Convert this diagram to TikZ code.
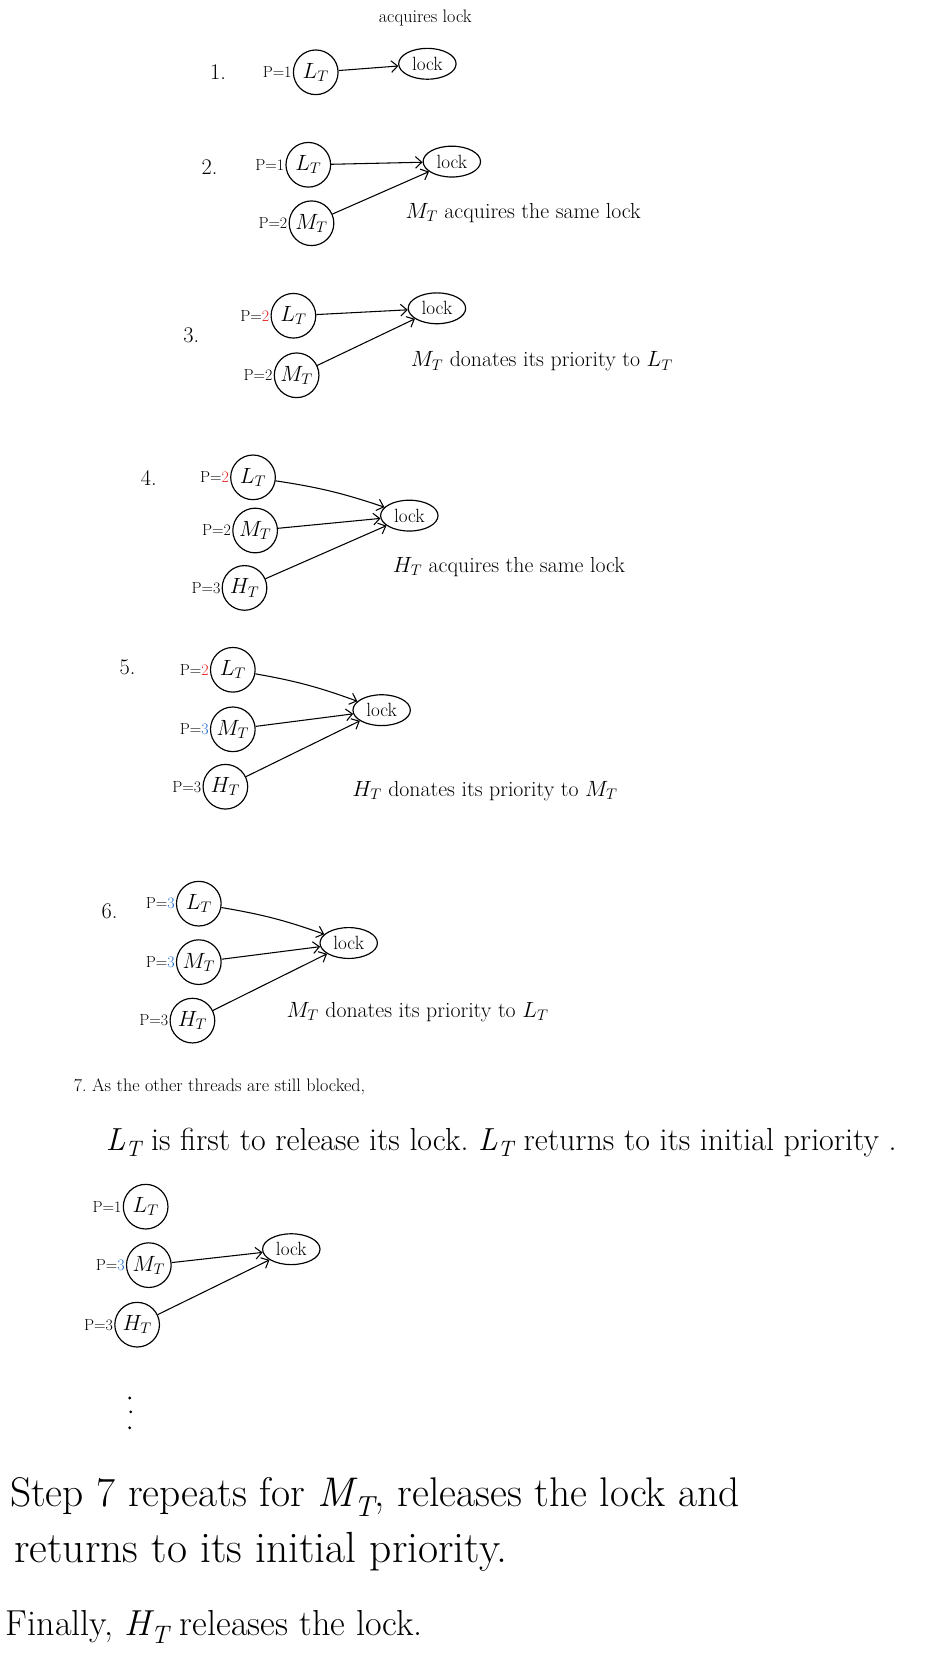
\documentclass[tikz,border=0pt]{standalone}
\usetikzlibrary{shapes.geometric,arrows.meta}
\definecolor{pred}{RGB}{230,35,35}
\definecolor{pblue}{RGB}{30,110,205}
\newcommand{\bigsub}[2]{\textit{#1\textsubscript{#2}}}
\begin{document}
\begin{tikzpicture}[x=1pt,y=-1pt,
 thread/.style={circle,draw,line width=1.1pt,minimum size=42pt,inner sep=0pt,font=\fontsize{21}{21}\selectfont},
 locknode/.style={ellipse,draw,line width=1.1pt,minimum width=54pt,minimum height=29pt,inner sep=0pt,font=\fontsize{18}{18}\selectfont},
 plab/.style={anchor=east,inner sep=1pt,font=\fontsize{15}{15}\selectfont},
 stepnum/.style={font=\fontsize{21}{21}\selectfont},
 note/.style={anchor=west,font=\fontsize{20.5}{20.5}\selectfont},
 conn/.style={line width=1pt,-{Straight Barb[length=6pt,width=11pt]}},
 midtext/.style={anchor=west,font=\fontsize{30}{30}\selectfont},
 bigtext/.style={anchor=west,font=\fontsize{39}{39}\selectfont},
 dotn/.style={circle,fill,inner sep=0pt,minimum size=3pt}
]
\useasboundingbox (0,0) rectangle (890,1568);
% Step 1
\node[font=\fontsize{17}{17}\selectfont] (a1) at (400,17) {acquires lock};
\node[stepnum] (n1) at (205,68) {1.};
\node[thread] (L1) at (297,68) {$L_T$};
\node[plab] (p1L) at (L1.west) {P=1};
\node[locknode] (k1) at (402,60) {lock};
\draw[conn] (L1) -- (k1);
% Step 2
\node[stepnum] (n2) at (197,157) {2.};
\node[thread] (L2) at (290,155) {$L_T$};
\node[plab] (p2L) at (L2.west) {P=1};
\node[thread] (M2) at (293,210) {$M_T$};
\node[plab] (p2M) at (M2.west) {P=2};
\node[locknode] (k2) at (425,152) {lock};
\draw[conn] (L2) -- (k2);
\draw[conn] (M2) -- (k2);
\node[note] (a2) at (378,200) {$M_T$ acquires the same lock};
% Step 3
\node[stepnum] (n3) at (180,315) {3.};
\node[thread] (L3) at (276,297) {$L_T$};
\node[plab] (p3L) at (L3.west) {P=\textcolor{pred}{2}};
\node[thread] (M3) at (279,353) {$M_T$};
\node[plab] (p3M) at (M3.west) {P=2};
\node[locknode] (k3) at (411,290) {lock};
\draw[conn] (L3) -- (k3);
\draw[conn] (M3) -- (k3);
\node[note] (a3) at (383,340) {$M_T$ donates its priority to $L_T$};
% Step 4
\node[stepnum] (n4) at (140,450) {4.};
\node[thread] (L4) at (238,449) {$L_T$};
\node[plab] (p4L) at (L4.west) {P=\textcolor{pred}{2}};
\node[thread] (M4) at (240,499) {$M_T$};
\node[plab] (p4M) at (M4.west) {P=2};
\node[thread] (H4) at (230,553) {$H_T$};
\node[plab] (p4H) at (H4.west) {P=3};
\node[locknode] (k4) at (385,485) {lock};
\draw[conn] (L4) to[bend left=5] (k4);
\draw[conn] (M4) -- (k4);
\draw[conn] (H4) -- (k4);
\node[note] (a4) at (366,533) {$H_T$ acquires the same lock};
% Step 5
\node[stepnum] (n5) at (120,628) {5.};
\node[thread] (L5) at (219,630) {$L_T$};
\node[plab] (p5L) at (L5.west) {P=\textcolor{pred}{2}};
\node[thread] (M5) at (219,686) {$M_T$};
\node[plab] (p5M) at (M5.west) {P=\textcolor{pblue}{3}};
\node[thread] (H5) at (212,740) {$H_T$};
\node[plab] (p5H) at (H5.west) {P=3};
\node[locknode] (k5) at (359,668) {lock};
\draw[conn] (L5) to[bend left=5] (k5);
\draw[conn] (M5) -- (k5);
\draw[conn] (H5) -- (k5);
\node[note] (a5) at (328,744) {$H_T$ donates its priority to $M_T$};
% Step 6
\node[stepnum] (n6) at (103,857) {6.};
\node[thread] (L6) at (187,850) {$L_T$};
\node[plab] (p6L) at (L6.west) {P=\textcolor{pblue}{3}};
\node[thread] (M6) at (187,905) {$M_T$};
\node[plab] (p6M) at (M6.west) {P=\textcolor{pblue}{3}};
\node[thread] (H6) at (181,960) {$H_T$};
\node[plab] (p6H) at (H6.west) {P=3};
\node[locknode] (k6) at (328,887) {lock};
\draw[conn] (L6) to[bend left=5] (k6);
\draw[conn] (M6) -- (k6);
\draw[conn] (H6) -- (k6);
\node[note] (a6) at (266,952) {$M_T$ donates its priority to $L_T$};
% Step 7 text
\node[anchor=west,font=\fontsize{17}{17}\selectfont] (t7a) at (66,1022) {7.\ As the other threads are still blocked,};
\node[midtext] (t7b) at (96,1075) {\bigsub{L}{T} is first to release its lock.\ \bigsub{L}{T} returns to its initial priority .};
% Step 7 diagram
\node[thread] (L7) at (137,1135) {$L_T$};
\node[plab] (p7L) at (L7.west) {P=1};
\node[thread] (M7) at (140,1190) {$M_T$};
\node[plab] (p7M) at (M7.west) {P=\textcolor{pblue}{3}};
\node[thread] (H7) at (129,1246) {$H_T$};
\node[plab] (p7H) at (H7.west) {P=3};
\node[locknode] (k7) at (274,1175) {lock};
\draw[conn] (M7) -- (k7);
\draw[conn] (H7) -- (k7);
% dots
\node[dotn] (d1) at (122,1315) {};
\node[dotn] (d2) at (123,1328) {};
\node[dotn] (d3) at (122,1343) {};
% bottom text
\node[bigtext] (b1) at (6,1408) {Step 7 repeats for \bigsub{M}{T}, releases the lock and};
\node[bigtext,font=\fontsize{41}{41}\selectfont] (b2) at (10,1460) {returns to its initial priority.};
\node[bigtext,font=\fontsize{34}{34}\selectfont] (b3) at (2,1530) {Finally, \bigsub{H}{T} releases the lock.};
\end{tikzpicture}
\end{document}
